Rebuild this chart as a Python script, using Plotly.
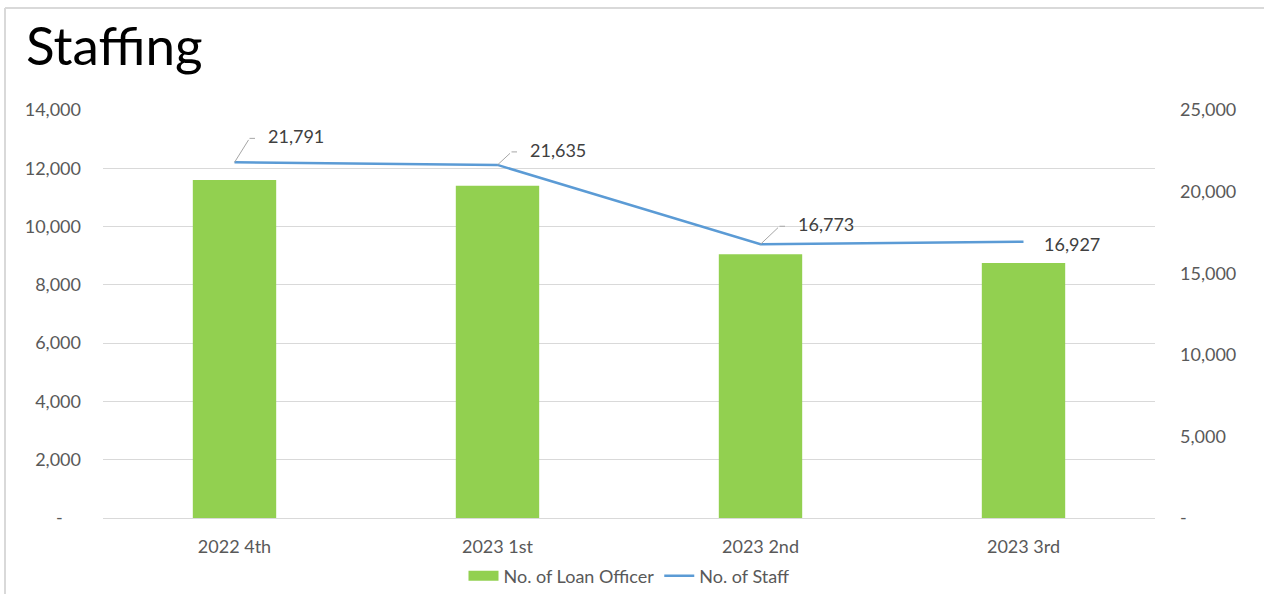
import plotly.graph_objects as go

# Quarterly staffing figures
quarters = ["2022 4th", "2023 1st", "2023 2nd", "2023 3rd"]
loan_officers = [11600, 11400, 9050, 8750]
staff = [21791, 21635, 16773, 16927]

# Axis ticks
left_tickvals = [0, 2000, 4000, 6000, 8000, 10000, 12000, 14000]
left_ticktext = ["-\u00a0\u00a0\u00a0\u00a0", "2,000", "4,000", "6,000", "8,000", "10,000", "12,000", "14,000"]
right_tickvals = [0, 5000, 10000, 15000, 20000, 25000]
right_ticktext = ["-", "5,000", "10,000", "15,000", "20,000", "25,000"]

# Label placement for the staff values: (text x offset, text y offset, leader line)
label_offsets = [(31, 26, True), (30, 15, True), (35, 20, True), (18, -2, False)]

FONT = "Lato"
TICK_GREY = "#595959"
LABEL_GREY = "#404040"
BAR_GREEN = "#92D050"
LINE_BLUE = "#5B9BD5"
GRID = "#D9D9D9"
FS = 18

fig = go.Figure()
fig.add_trace(go.Bar(
    x=quarters, y=loan_officers, name="No. of Loan Officer",
    marker=dict(color=BAR_GREEN, line=dict(width=0)),
    yaxis="y", showlegend=False, legendgroup="lo",
))
# wide swatch for the loan officer legend entry
fig.add_trace(go.Scatter(
    x=[None], y=[None], name="No. of Loan Officer", mode="lines",
    line=dict(color=BAR_GREEN, width=10), legendgroup="lo",
))
fig.add_trace(go.Scatter(
    x=quarters, y=staff, name="No. of Staff", mode="lines",
    line=dict(color=LINE_BLUE, width=2.5),
    yaxis="y2",
))

annotations = []
for q, v, (dx, dy, leader) in zip(quarters, staff, label_offsets):
    annotations.append(dict(
        x=q, y=v, xref="x", yref="y2", text=f"{v:,}", showarrow=False,
        xanchor="left", yanchor="middle", xshift=dx, yshift=dy,
        font=dict(family=FONT, size=FS, color=LABEL_GREY),
    ))
    if leader:
        lx, ly = dx - 16, dy - 2
        # slanted part of the leader
        annotations.append(dict(
            x=q, y=v, xref="x", yref="y2", text="", showarrow=True,
            arrowhead=0, arrowwidth=1, arrowcolor="#A6A6A6",
            ax=lx, ay=-ly, standoff=0, startstandoff=0,
        ))
        # short horizontal tick next to the label
        annotations.append(dict(
            x=q, y=v, xref="x", yref="y2", text="", showarrow=True,
            arrowhead=0, arrowwidth=1, arrowcolor="#A6A6A6",
            ax=7, ay=0, xshift=lx, yshift=ly, standoff=0, startstandoff=0,
        ))

fig.update_layout(
    width=1264, height=594,
    margin=dict(l=103, r=109, t=110, b=76, autoexpand=False),
    paper_bgcolor="white", plot_bgcolor="white",
    title=dict(
        text="Staffing",
        x=26 / 1264, xanchor="left", xref="container",
        y=1 - 46 / 594, yanchor="middle", yref="container",
        font=dict(family=FONT, size=53, color="#000000"),
    ),
    bargap=0.683,
    xaxis=dict(
        showgrid=False, showline=True, linecolor=GRID, linewidth=1,
        ticks="", tickfont=dict(family=FONT, size=FS, color=TICK_GREY),
        ticklabelstandoff=12,
    ),
    yaxis=dict(
        range=[0, 14000], tickvals=left_tickvals, ticktext=left_ticktext,
        showgrid=True, gridcolor=GRID, gridwidth=1, zeroline=False,
        showline=False, ticks="", ticklabelstandoff=21,
        tickfont=dict(family=FONT, size=FS, color=TICK_GREY),
    ),
    yaxis2=dict(
        range=[0, 25000], tickvals=right_tickvals, ticktext=right_ticktext,
        overlaying="y", side="right", showgrid=False, zeroline=False,
        showline=False, ticks="", ticklabelstandoff=24,
        tickfont=dict(family=FONT, size=FS, color=TICK_GREY),
    ),
    legend=dict(
        orientation="h", x=0.5, xanchor="center", y=-0.142, yanchor="middle",
        font=dict(family=FONT, size=FS, color=TICK_GREY),
        itemwidth=30, tracegroupgap=0,
    ),
    annotations=annotations,
    shapes=[
        # thin frame along the top and left edges
        dict(type="line", xref="paper", yref="paper",
             x0=-98 / 1052, x1=1.2, y0=1 + 102 / 408, y1=1 + 102 / 408,
             line=dict(color=GRID, width=2)),
        dict(type="line", xref="paper", yref="paper",
             x0=-98 / 1052, x1=-98 / 1052, y0=1 + 102 / 408, y1=-0.3,
             line=dict(color=GRID, width=2)),
    ],
)

fig.write_html("out.html")
